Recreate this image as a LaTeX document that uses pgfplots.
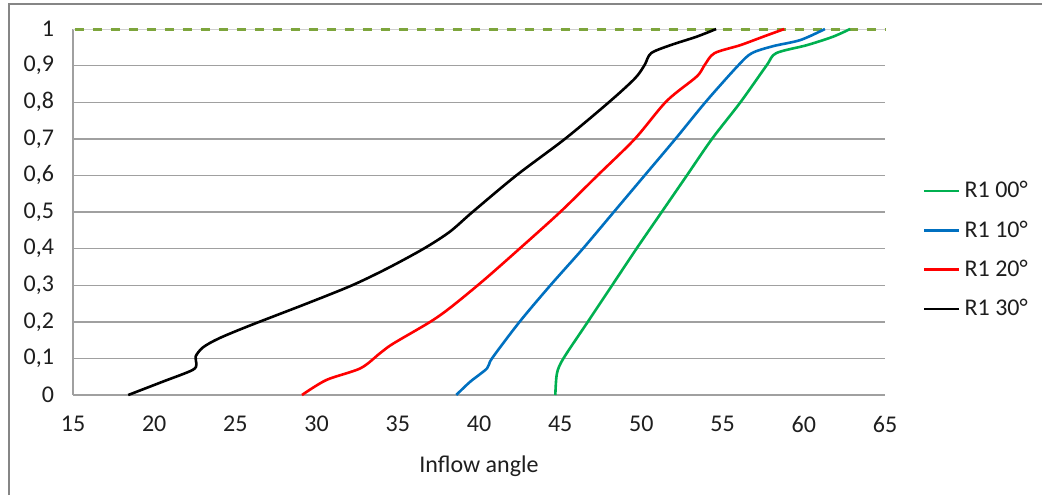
\documentclass[border=0pt]{standalone}
\usepackage{fontspec}
\setmainfont{Carlito}
\usepackage{pgfplots}
\pgfplotsset{compat=1.18}
\definecolor{cgreen}{RGB}{0,176,80}
\definecolor{cblue}{RGB}{0,112,192}
\definecolor{cred}{RGB}{255,0,0}
\definecolor{colive}{RGB}{125,165,60}
\definecolor{cgrid}{RGB}{160,160,160}
\definecolor{cframe}{RGB}{134,134,134}
\definecolor{ctext}{RGB}{30,30,30}
\begin{document}
\begin{tikzpicture}
\path[use as bounding box] (-36.5pt,-50pt) rectangle (484.5pt,197.5pt);
\draw[cframe, line width=0.6pt] (-32pt,-50pt) -- (-32pt,195.5pt) -- (484.5pt,195.5pt);
\begin{axis}[
  scale only axis,
  width=406pt, height=183pt,
  xmin=15, xmax=65, ymin=0, ymax=1,
  clip=false,
  xtick={15,20,...,65},
  ytick={0,0.1,...,1},
  yticklabels={0,{0,1},{0,2},{0,3},{0,4},{0,5},{0,6},{0,7},{0,8},{0,9},1},
  major tick length=0pt,
  axis line style={draw=none},
  /pgf/number format/assume math mode=true,
  ticklabel style={font=\fontsize{12}{14}\selectfont, text=ctext},
  yticklabel style={xshift=-6pt},
  xticklabel style={yshift=-7pt},
  xlabel={Inflow angle},
  xlabel style={font=\fontsize{12}{14}\selectfont, text=ctext, yshift=-5pt},
  legend style={at={(1.039,0.396)}, anchor=west, draw=none, fill=none,
    font=\fontsize{12}{14}\selectfont, text=ctext, row sep=6pt,
    /tikz/every even column/.append style={column sep=0pt}},
  legend cell align=left,
  legend image code/.code={\draw[#1] (0pt,0pt) -- (17.5pt,0pt);},
  every axis plot/.append style={line width=1.3pt},
]
\pgfplotsinvokeforeach{0,0.1,0.2,0.3,0.4,0.5,0.6,0.7,0.8,0.9}{
  \draw[cgrid, line width=0.7pt] (axis cs:15,#1) -- (axis cs:65,#1);
}
\draw[cgrid, line width=0.7pt] (axis cs:15,0) -- (axis cs:15,1);
\draw[cgrid!50, line width=0.5pt] (axis cs:15,1) -- (axis cs:65,1);
\addplot[colive, line width=1.5pt, dash pattern=on 4.5pt off 4.5pt, forget plot] coordinates {(15.1,1) (65,1)};
\addplot[cgreen, smooth] coordinates {
(44.7,0) (44.8,0.059) (45.2,0.1) (46.7,0.2) (48.2,0.3) (49.7,0.4) (51.25,0.5) (52.8,0.6) (54.35,0.7) (56.1,0.8) (57.7,0.9) (58.3,0.934) (60.2,0.956) (61.8,0.979) (62.85,1.0)};
\addlegendentry{R1 00°}
\addplot[cblue, smooth] coordinates {
(38.6,0) (39.45,0.036) (40.5,0.073) (40.8,0.1) (42.5,0.2) (44.4,0.3) (46.4,0.4) (48.3,0.5) (50.2,0.6) (52.1,0.7) (54.0,0.803) (55.95,0.9) (56.8,0.934) (58.1,0.953) (59.8,0.97) (61.3,1.0)};
\addlegendentry{R1 10°}
\addplot[cred, smooth] coordinates {
(29.1,0) (30.6,0.041) (32.7,0.073) (33.9,0.114) (34.7,0.14) (37.0,0.2) (38.3,0.241) (40.3,0.314) (42.5,0.4) (45.0,0.5) (47.3,0.6) (49.6,0.7) (51.55,0.803) (53.4,0.87) (53.9,0.902) (54.5,0.934) (56.1,0.956) (57.5,0.979) (58.8,1.0)};
\addlegendentry{R1 20°}
\addplot[black, smooth] coordinates {
(18.4,0) (20.5,0.036) (22.35,0.068) (22.6,0.085) (22.55,0.105) (23.0,0.13) (24.0,0.155) (25.9,0.19) (29.4,0.25) (32.2,0.3) (34.4,0.347) (36.6,0.4) (38.2,0.446) (39.6,0.5) (42.3,0.6) (45.3,0.7) (48.0,0.8) (49.6,0.865) (50.2,0.902) (50.6,0.934) (51.8,0.956) (53.4,0.979) (54.6,1.0)};
\addlegendentry{R1 30°}
\end{axis}
\end{tikzpicture}
\end{document}
